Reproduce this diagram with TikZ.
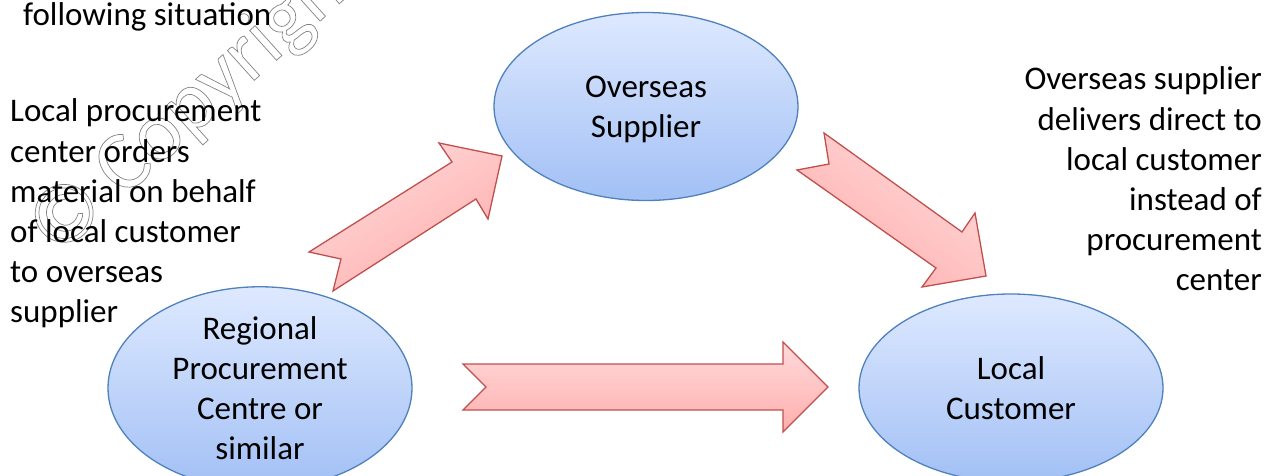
\documentclass[tikz,border=0pt]{standalone}
\usepackage{fontspec}
\setmainfont{Carlito}
\usetikzlibrary{shapes.geometric}
\definecolor{ellblue}{RGB}{79,129,189}
\definecolor{elltop}{RGB}{222,233,255}
\definecolor{ellbot}{RGB}{162,192,245}
\definecolor{arrred}{RGB}{192,80,77}
\definecolor{arrtop}{RGB}{255,218,218}
\definecolor{arrbot}{RGB}{255,174,174}
\definecolor{wmgray}{RGB}{130,130,130}
\begin{document}
\begin{tikzpicture}[x=1pt,y=-1pt,
  txt/.style={font=\fontsize{33}{40.2}\selectfont, inner sep=0pt},
  bubble/.style={ellipse, draw=ellblue, line width=1.3pt, top color=elltop, bottom color=ellbot,
    minimum width=304pt, minimum height=188pt, inner sep=0pt, align=center,
    font=\fontsize{33}{40}\selectfont},
  blockarrow/.style={draw=arrred, line width=1.3pt, line join=miter, top color=arrtop, bottom color=arrbot},
  watermark/.style={font=\fontsize{84}{84}\selectfont, text=wmgray, rotate=42, anchor=base west, inner sep=0pt}]
\useasboundingbox (0,0) rectangle (1274,476);

% watermark
\node[watermark] (wm) at (57,258) {\special{pdf:literal direct 1 Tr 0.7 w}© Copyright\special{pdf:literal direct 0 Tr}};

% side texts
\node[txt, anchor=base west] (intro) at (23,26) {following situation};
\node[txt, anchor=base west] (lefttext) at (10,122) {\vtop{\halign{#\hfil\cr
  Local procurement\cr center orders\cr material on behalf\cr of local customer\cr
  to overseas\cr supplier\cr}}};
\node[txt, anchor=base east] (righttext) at (1262,90) {\vtop{\halign{\hfil#\cr
  Overseas supplier\cr delivers direct to\cr local customer\cr instead of\cr
  procurement\cr center\cr}}};

% block arrows
\draw[blockarrow, shading angle=32] (309,252) -- (452,162) -- (439,143) -- (502,156)
  -- (488,219) -- (476,199) -- (333,291) -- (341,259) -- cycle;
\draw[blockarrow] (463,364) -- (783,364) -- (783,342) -- (828,387) -- (783,432)
  -- (783,410) -- (463,410) -- (486,387) -- cycle;
\draw[blockarrow, shading angle=-35] (824,133) -- (962,232) -- (975,213) -- (986,276)
  -- (922,287) -- (936,268) -- (797,170) -- (829,164) -- cycle;

% ellipses
\node[bubble, text depth=0pt] (sup) at (646,106.5) {Overseas\\Supplier};
\node[bubble] (rpc) at (260,388) {Regional\\Procurement\\Centre or\\similar};
\node[bubble] (cus) at (1011,388) {Local\\Customer};
\end{tikzpicture}
\end{document}
